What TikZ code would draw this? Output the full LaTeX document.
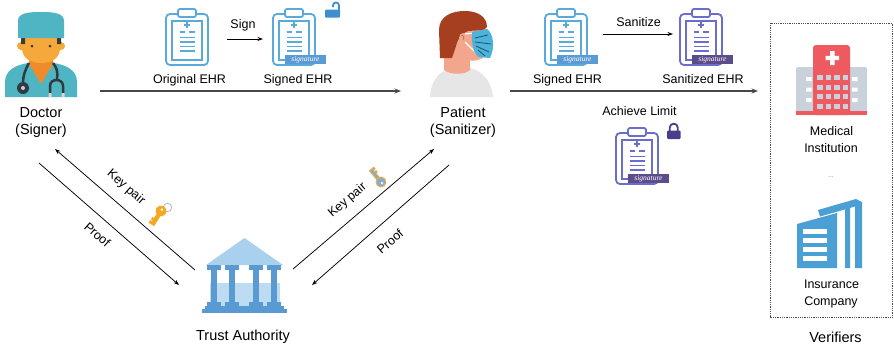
\documentclass[tikz,border=0pt]{standalone}
\usepackage{fontspec}
\setmainfont{Liberation Sans}
\newfontfamily\sigfont{Liberation Serif}
\usetikzlibrary{arrows.meta}

\definecolor{ehrblue}{HTML}{5AA9DD}
\definecolor{sigblue}{HTML}{5B9BD5}
\definecolor{ehrpurple}{HTML}{6B6DCB}
\definecolor{sigpurple}{HTML}{5C4D8A}
\definecolor{lockblue}{HTML}{3F8ECF}
\definecolor{lockpurple}{HTML}{4A3D8C}
\definecolor{scrub}{HTML}{4FB5C3}
\definecolor{skinA}{HTML}{F6A93B}
\definecolor{skinB}{HTML}{EE8B2A}
\definecolor{darkhair}{HTML}{3A3A3A}
\definecolor{steth}{HTML}{2F3B40}
\definecolor{hairred}{HTML}{A63F1F}
\definecolor{skinP}{HTML}{F2A78C}
\definecolor{shirt}{HTML}{E6E6E6}
\definecolor{mask}{HTML}{4CB3DB}
\definecolor{maskline}{HTML}{22506D}
\definecolor{roof}{HTML}{A9D0EC}
\definecolor{pillar}{HTML}{5A9AD3}
\definecolor{hosred}{HTML}{EF5A60}
\definecolor{hosgray}{HTML}{C9D2DA}
\definecolor{bldblue}{HTML}{4A9FD4}
\definecolor{keyorange}{HTML}{F5A623}
\definecolor{keyblue}{HTML}{8EA9CF}
\definecolor{keygold}{HTML}{E9B33B}

\tikzset{
  pics/ehr/.style={code={
    \draw[draw=#1, line width=1.8pt, rounded corners=4pt, fill=white] (0,5) rectangle (42,56);
    \draw[draw=#1, line width=1.1pt] (6,12) rectangle (36,51);
    \draw[draw=#1, line width=1.8pt, rounded corners=2pt, fill=white] (12,0) rectangle (30,8);
    \draw[#1, line width=1.1pt] (18,16) -- (24,16) (21,13) -- (21,19);
    \draw[#1, line width=1.1pt] (13.5,23) -- (19,23) (23,23) -- (28.5,23);
    \foreach \yy in {28.5,33,37.5,42} \draw[#1, line width=1.1pt] (13.5,\yy) -- (28.5,\yy);
  }},
  pics/sigband/.style={code={
    \fill[#1] (12,46) rectangle (53,55);
    \node[text=white, font=\sigfont\itshape\fontsize{7.5}{8}\selectfont, inner sep=0pt] (-txt) at (32.5,50.5) {signature};
  }},
  pics/keyicon/.style 2 args={code={
    \path[fill=#1, draw=#2, line width=0.9pt] (4,-1.7) -- (16,-1.7) -- (16,4) -- (14,4) -- (14,1.7) -- (12,1.7) -- (12,3.6) -- (10,3.6) -- (10,1.7) -- (4,1.7) -- cycle;
    \path[fill=#1, draw=#2, line width=0.9pt] (0,0) circle (5);
    \fill[white] (-1.6,0) circle (1.4);
  }},
  flow/.style={draw=black!72, line width=1.1pt, -{Stealth[length=6.5pt,width=5pt]}},
  conn/.style={draw=black, line width=0.75pt, -{Stealth[length=5.5pt,width=4pt]}},
  lbl/.style={font=\fontsize{14.5}{17}\selectfont, inner sep=0pt, anchor=base},
  slbl/.style={font=\fontsize{12.5}{15}\selectfont, inner sep=0pt, anchor=base},
  dlbl/.style={font=\fontsize{12.5}{15}\selectfont, inner sep=0pt},
}

\begin{document}
\begin{tikzpicture}[x=1pt,y=-1pt]
\fill[white] (0,0) rectangle (894,349);
\useasboundingbox (0,0) rectangle (894,349);

% ---------- Doctor ----------
\begin{scope}
  \fill[scrub] (5,97) -- (5,82) .. controls (5,70) and (16,65) .. (28,63) -- (54,63) .. controls (66,65) and (77,70) .. (77,82) -- (77,97) -- cycle;
  \fill[skinB] (29,58) -- (53,58) -- (53,64) -- (41,84) -- (29,64) -- cycle;
  \fill[skinA] (21,46) circle (4) (61,46) circle (4);
  \fill[skinA] (22,36) -- (22,48) .. controls (22,58) and (30,63) .. (41,63) .. controls (52,63) and (60,58) .. (60,48) -- (60,36) -- cycle;
  \fill[darkhair] (21,36) rectangle (25,44) (57,36) rectangle (61,44);
  \fill[scrub] (18,38) -- (18,21) .. controls (18,13) and (28,12) .. (41,12) .. controls (54,12) and (64,13) .. (64,21) -- (64,38) -- cycle;
  \fill[darkhair] (32,46) circle (1.5) (50,46) circle (1.5);
  \draw[steth, line width=2.5pt] (29,63) .. controls (25,70) and (23,76) .. (23,83);
  \fill[steth] (23,88) circle (6);
  \fill[white!75!steth] (23,88) circle (2);
  \draw[steth, line width=2.5pt] (53,63) .. controls (57,68) and (58,72) .. (57,79);
  \draw[steth, line width=2.5pt] (50,94) -- (50,86) .. controls (50,78) and (63,78) .. (63,86) -- (63,94);
  \fill[white!80!steth] (48.5,93) rectangle (51.5,97) (61.5,93) rectangle (64.5,97);
\end{scope}
\node[lbl] (docname) at (41,117) {Doctor};
\node[lbl] (docrole) at (41,134) {(Signer)};

% ---------- Patient ----------
\begin{scope}
  \fill[shirt] (430,97) .. controls (431,78) and (442,67) .. (461,67) .. controls (479,67) and (491,78) .. (493,97) -- cycle;
  \fill[skinP] (444,45) -- (470,50) -- (470,70) .. controls (465,75) and (450,75) .. (444,70) -- cycle;
  \fill[skinP] (446,22) -- (484,22) .. controls (487,30) and (489,38) .. (488,44) -- (486,55) .. controls (482,60) and (474,62) .. (468,60) -- (448,58) -- cycle;
  \fill[hairred] (440,58) -- (439,30) .. controls (439,16) and (452,11) .. (465,11) .. controls (478,11) and (487,17) .. (487,27) -- (483,30) -- (468,31) .. controls (462,33) and (458,38) .. (456,46) -- (452,58) -- cycle;
  \fill[skinP] (463,38) ellipse (4 and 5);
  \draw[skinP!70!black, line width=0.6pt] (461,36) .. controls (463,34) and (465,37) .. (463,40);
  \draw[darkhair, line width=1pt] (478,32) -- (482,31);
  \draw[white, line width=1.2pt] (465,34) -- (474,33) (465,42) -- (474,51);
  \fill[mask] (472,32) -- (487,29) .. controls (494,34) and (495,48) .. (490,58) -- (478,57) .. controls (474,52) and (471,44) .. (472,32) -- cycle;
  \draw[maskline, line width=0.8pt] (475,38) -- (488,35) (475,42) -- (491,44) (476,46) -- (489,52) (478,50) -- (485,56);
\end{scope}
\node[lbl] (patname) at (463,117) {Patient};
\node[lbl] (patrole) at (463,134) {(Sanitizer)};

% ---------- Trust Authority ----------
\begin{scope}
  \fill[roof] (244.5,238) -- (283,265) -- (206,265) -- cycle;
  \fill[roof!75] (210,283) rectangle (280,307);
  \foreach \xc in {214,232.3,256,274.3} {
    \fill[pillar] (\xc-7,265) rectangle (\xc+7,270);
    \fill[pillar] (\xc-3,270) rectangle (\xc+3,303);
    \fill[pillar] (\xc-7,302) rectangle (\xc+7,307);
  }
  \fill[pillar] (205,306) rectangle (284,309);
  \fill[pillar] (202,309) rectangle (287,313);
\end{scope}
\node[lbl] (ta) at (243,340) {Trust Authority};

% ---------- EHR documents ----------
\pic (orig) at (166,9) {ehr=ehrblue};
\node[slbl] (origlbl) at (189.5,83) {Original EHR};

\pic (sgA) at (273,9) {ehr=ehrblue};
\pic (sgAb) at (273,9) {sigband=sigblue};
\node[slbl] (sgAlbl) at (298,83) {Signed EHR};
% open padlock
\fill[lockblue, rounded corners=1pt] (325,9.5) rectangle (340,17.5);
\draw[lockblue, line width=1.8pt] (333,7) -- (333,5.5) .. controls (333,1.5) and (339,1.5) .. (339,5.5) -- (339,10);

\node[slbl] (signlbl) at (243,28) {Sign};
\coordinate (signS) at (227,39);
\coordinate (signE) at (263,39);
\draw[conn] (signS) -- (signE);

\pic (sgB) at (545,9) {ehr=ehrblue};
\pic (sgBb) at (545,9) {sigband=sigblue};
\node[slbl] (sgBlbl) at (567.5,83) {Signed EHR};

\node[slbl] (sanlbl) at (638.5,26) {Sanitize};
\coordinate (sanS) at (603,34);
\coordinate (sanE) at (673,34);
\draw[conn] (sanS) -- (sanE);

\pic (snz) at (680,9) {ehr=ehrpurple};
\pic (snzb) at (680,9) {sigband=sigpurple};
\node[slbl] (snzlbl) at (703,83) {Sanitized EHR};

\node[slbl] (limlbl) at (639.5,115) {Achieve Limit};
\pic (lim) at (616,128) {ehr=ehrpurple};
\pic (limb) at (616,128) {sigband=sigpurple};
% closed padlock
\fill[lockpurple, rounded corners=1pt] (667,130.5) rectangle (680.5,139);
\draw[lockpurple, line width=1.8pt] (669.8,131) -- (669.8,127.5) .. controls (669.8,122.5) and (677.7,122.5) .. (677.7,127.5) -- (677.7,131);

% ---------- Verifiers ----------
\draw[black!70, line width=0.8pt, densely dotted] (770,23) rectangle (892.5,317);
\begin{scope}
  \fill[hosgray, rounded corners=2pt] (796,115) -- (796,67) -- (867,67) -- (867,115) -- cycle;
  \fill[hosred, rounded corners=3pt] (813,115) -- (813,45) -- (850,45) -- (850,115) -- cycle;
  \fill[white] (830,51) rectangle (834.5,65) (825.5,55.8) rectangle (839,60.2);
  \foreach \xx in {817,825.5,834,842.5}
    \foreach \yy in {75,84.5,94,103.5}
      \fill[hosgray] (\xx,\yy) rectangle (\xx+5.5,\yy+5);
  \foreach \yy in {77,87.5,98}
    \fill[white] (806,\yy) rectangle (811.5,\yy+4) (852,\yy) rectangle (857.5,\yy+4);
  \fill[hosred] (796,111) rectangle (867,115);
\end{scope}
\node[slbl] (medA) at (831.5,135) {Medical};
\node[slbl] (medB) at (831,152) {Institution};
\node[font=\fontsize{7}{8}\selectfont, text=black!45, inner sep=0pt] (dots) at (831,177) {...};
\begin{scope}
  % rear tower: slanted roof and right wall
  \fill[bldblue] (818,210) -- (856,199) -- (862,202) -- (862,268) -- (855,268) -- (855,206.5) -- (820,216.5) -- cycle;
  \fill[bldblue] (845,209) -- (850,207.5) -- (850,268) -- (845,268) -- cycle;
  % front block with window strips
  \fill[bldblue] (797,224) -- (837,213) -- (837,268) -- (797,268) -- cycle;
  \foreach \yy in {229,238,247,256}
    \fill[white] (803,\yy) rectangle (827,\yy+5);
\end{scope}
\node[slbl] (insA) at (831.5,288) {Insurance};
\node[slbl] (insB) at (831,305) {Company};
\node[lbl] (ver) at (835.5,342) {Verifiers};

% ---------- main flow ----------
\coordinate (docR) at (100,91);
\coordinate (patL) at (401,91);
\coordinate (patR) at (510,91);
\coordinate (verL) at (758,91);
\draw[flow] (docR) -- (patL);
\draw[flow] (patR) -- (verL);

% ---------- key distribution and proofs ----------
\coordinate (taUL) at (195,270);
\coordinate (docDR) at (55,149);
\coordinate (docPr) at (39,163);
\coordinate (taL) at (179,285);
\draw[conn] (taUL) -- (docDR);
\draw[conn] (docPr) -- (taL);
\node[dlbl, rotate=-41] (kpL) at (126,187.5) {Key pair};
\node[dlbl, rotate=-41] (prL) at (97.5,234.5) {Proof};

\coordinate (taUR) at (293,269);
\coordinate (patDL) at (434,149);
\coordinate (patPr) at (449,165);
\coordinate (taR) at (312,285);
\draw[conn] (taUR) -- (patDL);
\draw[conn] (patPr) -- (taR);
\node[dlbl, rotate=41] (kpR) at (347.5,200.5) {Key pair};
\node[dlbl, rotate=41] (prR) at (390,241.5) {Proof};

% keys
\draw[gray!55, line width=0.8pt] (167.5,207.5) circle (4.2);
\pic[rotate=238] (keyA) at (161,211) {keyicon={keyorange}{keyorange}};
\pic[rotate=130] (keyB) at (381,182) {keyicon={keyblue}{keygold}};

\end{tikzpicture}
\end{document}
